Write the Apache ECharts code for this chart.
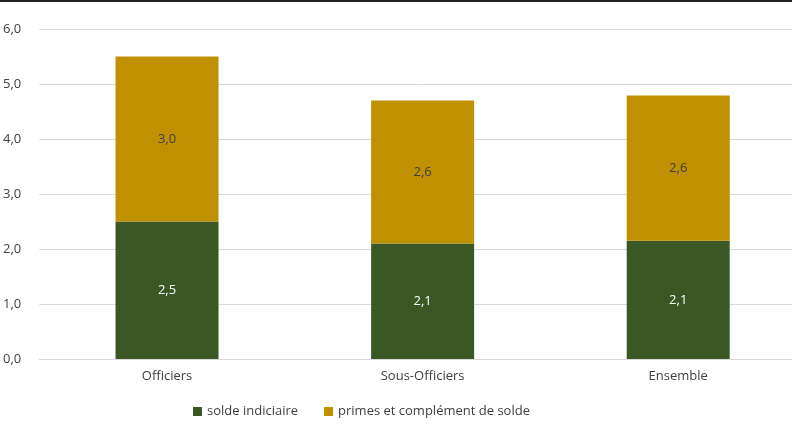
<!DOCTYPE html>
<html>
<head>
<meta charset="utf-8">
<script src="https://cdn.jsdelivr.net/npm/echarts@6/dist/echarts.min.js"></script>
<style>
  body { margin: 0; background: #fff; overflow: hidden; width: 792px; height: 445px; border-top: 2px solid #222; box-sizing: border-box; }
  #chart { width: 806px; height: 443px; margin-left: 0; }
</style>
</head>
<body>
<div id="chart"></div>
<script>
var categories = ['Officiers', 'Sous-Officiers', 'Ensemble'];
var soldeIndiciaire = [2.5, 2.1, 2.15];
var primes = [3.0, 2.6, 2.64];

var fmt = function (v) { return v.toFixed(1).replace('.', ','); };

var chart = echarts.init(document.getElementById('chart'));
chart.setOption({
  animation: false,
  textStyle: { fontFamily: 'Open Sans' },
  grid: { left: 32, right: 0, top: 27, bottom: 86 },
  legend: {
    bottom: 22,
    left: 188,
    itemWidth: 9, itemHeight: 9,
    icon: 'rect',
    itemGap: 26,
    textStyle: { color: '#404040', fontSize: 13 },
    data: ['solde indiciaire', 'primes et complément de solde']
  },
  xAxis: {
    type: 'category',
    data: categories,
    axisTick: { show: false },
    axisLine: { lineStyle: { color: '#d9d9d9' } },
    axisLabel: { color: '#404040', fontSize: 13, margin: 11 }
  },
  yAxis: {
    type: 'value',
    min: 0, max: 6, interval: 1,
    axisLabel: { color: '#404040', fontSize: 13, margin: 18, formatter: fmt },
    splitLine: { lineStyle: { color: '#d9d9d9' } }
  },
  series: [
    {
      name: 'solde indiciaire', type: 'bar', stack: 'a',
      data: soldeIndiciaire, barWidth: 103,
      itemStyle: { color: '#3a5724' },
      label: { show: true, position: 'inside', color: '#fff', fontSize: 13, formatter: function (p) { return fmt(p.value); } }
    },
    {
      name: 'primes et complément de solde', type: 'bar', stack: 'a',
      data: primes, barWidth: 103,
      itemStyle: { color: '#bf9000' },
      label: { show: true, position: 'inside', color: '#404040', fontSize: 13, formatter: function (p) { return fmt(p.value); } }
    }
  ]
});
</script>
</body>
</html>
